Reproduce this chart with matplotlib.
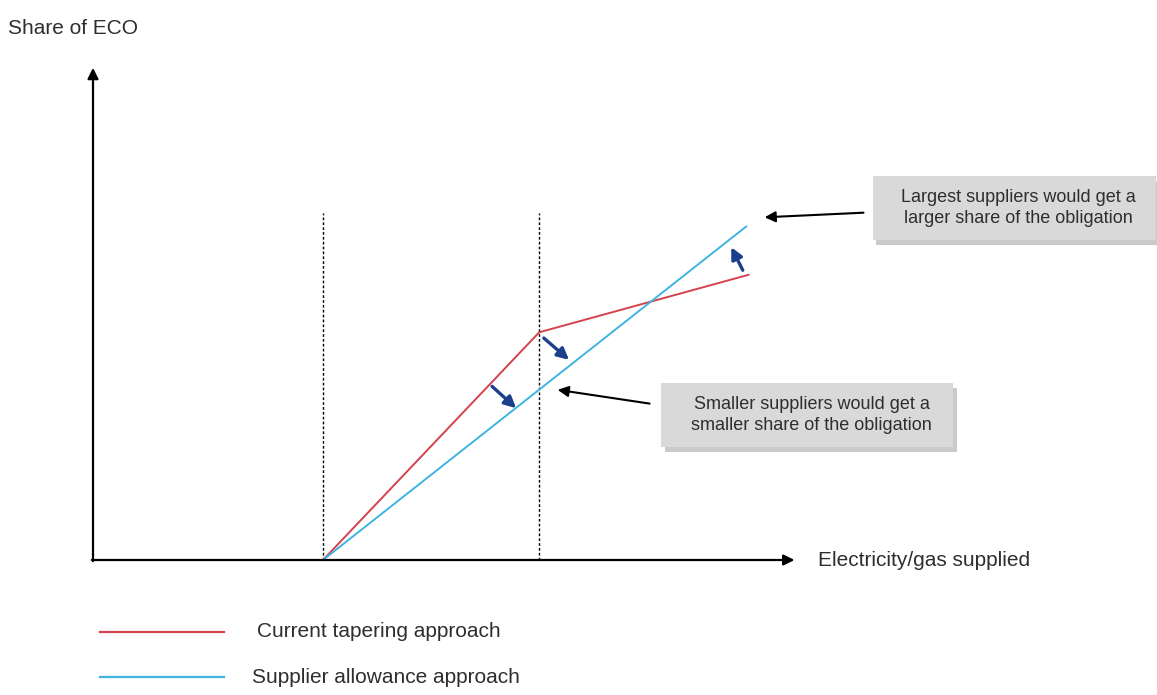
"""Schematic: share of ECO vs electricity/gas supplied."""

import matplotlib
matplotlib.use("Agg")
import matplotlib.pyplot as plt
from matplotlib.patches import Rectangle

plt.rcParams["font.family"] = ["Liberation Sans", "DejaVu Sans"]

# schematic data (arbitrary units)
thresholds = [10.0, 19.4]
tapering_x = [10.0, 19.4, 28.5]
tapering_y = [0.0, 9.9, 12.4]
allowance_x = [10.0, 28.4]
allowance_y = [0.0, 14.5]
threshold_top = 15.1
y_axis_top = 21.4
x_axis_end = 30.5

series_labels = ["Current tapering approach", "Supplier allowance approach"]
red = "#d4424e"
blue = "#3fb4e0"
navy = "#1c3f8c"
text_col = "#2e2e2e"

# small shift arrows (start, end)
shift_arrows = [
    ((17.35, 7.55), (18.4, 6.6)),
    ((19.6, 9.65), (20.7, 8.7)),
    ((28.25, 12.6), (27.75, 13.6)),
]

callouts = [
    {"text": "Largest suppliers would get a\nlarger share of the obligation",
     "box": (33.9, 13.9, 12.3, 2.8), "arrow": ((33.5, 15.1), (29.2, 14.9))},
    {"text": "Smaller suppliers would get a\nsmaller share of the obligation",
     "box": (24.7, 4.9, 12.7, 2.8), "arrow": ((24.2, 6.8), (20.2, 7.4))},
]

fig = plt.figure(figsize=(11.57, 6.95), dpi=100)
ax = fig.add_axes([0, 0, 1, 1])
ax.set_xlim(-93 / 23, (1157 - 93) / 23)
ax.set_ylim(-(695 - 560) / 23, 560 / 23)
ax.axis("off")

# axes arrows
ax.annotate("", xy=(0, y_axis_top), xytext=(0, -0.05),
            arrowprops=dict(arrowstyle="-|>", color="black", lw=1.6,
                            mutation_scale=16, shrinkA=0, shrinkB=0))
ax.annotate("", xy=(x_axis_end, 0), xytext=(-0.05, 0),
            arrowprops=dict(arrowstyle="-|>", color="black", lw=1.6,
                            mutation_scale=16, shrinkA=0, shrinkB=0))
ax.text(-3.7, 23.1, "Share of ECO", fontsize=15, color=text_col, va="center", ha="left")
ax.text(31.5, 0, "Electricity/gas supplied", fontsize=15, color=text_col, va="center", ha="left")

# thresholds
for t in thresholds:
    ax.plot([t, t], [0, threshold_top], color="black", lw=1, ls=(0, (2, 1.5)))

ax.plot(tapering_x, tapering_y, color=red, lw=1.4)
ax.plot(allowance_x, allowance_y, color=blue, lw=1.4)

for (x0, y0), (x1, y1) in shift_arrows:
    ax.annotate("", xy=(x1, y1), xytext=(x0, y0),
                arrowprops=dict(arrowstyle="-|>", color=navy, lw=2.4,
                                mutation_scale=17, shrinkA=0, shrinkB=0))

for c in callouts:
    bx, by, bw, bh = c["box"]
    ax.add_patch(Rectangle((bx + 0.15, by - 0.2), bw, bh, color="#a8a8a8", alpha=0.6, lw=0))
    ax.add_patch(Rectangle((bx, by), bw, bh, color="#d9d9d9", lw=0))
    ax.text(bx + bw / 2 + 0.2, by + bh / 2, c["text"], ha="center", va="center",
            fontsize=13, color=text_col, linespacing=1.35)
    (x0, y0), (x1, y1) = c["arrow"]
    ax.annotate("", xy=(x1, y1), xytext=(x0, y0),
                arrowprops=dict(arrowstyle="-|>", color="black", lw=1.5,
                                mutation_scale=16, shrinkA=0, shrinkB=0))

# legend
legend_y = [-3.13, -5.09]
legend_text_x = [7.15, 6.9]
for lab, col, ly, tx in zip(series_labels, [red, blue], legend_y, legend_text_x):
    ax.plot([0.3, 5.7], [ly, ly], color=col, lw=1.6)
    ax.text(tx, ly, lab, fontsize=15, color=text_col, va="center", ha="left")

fig.savefig("out.png", dpi=100)
